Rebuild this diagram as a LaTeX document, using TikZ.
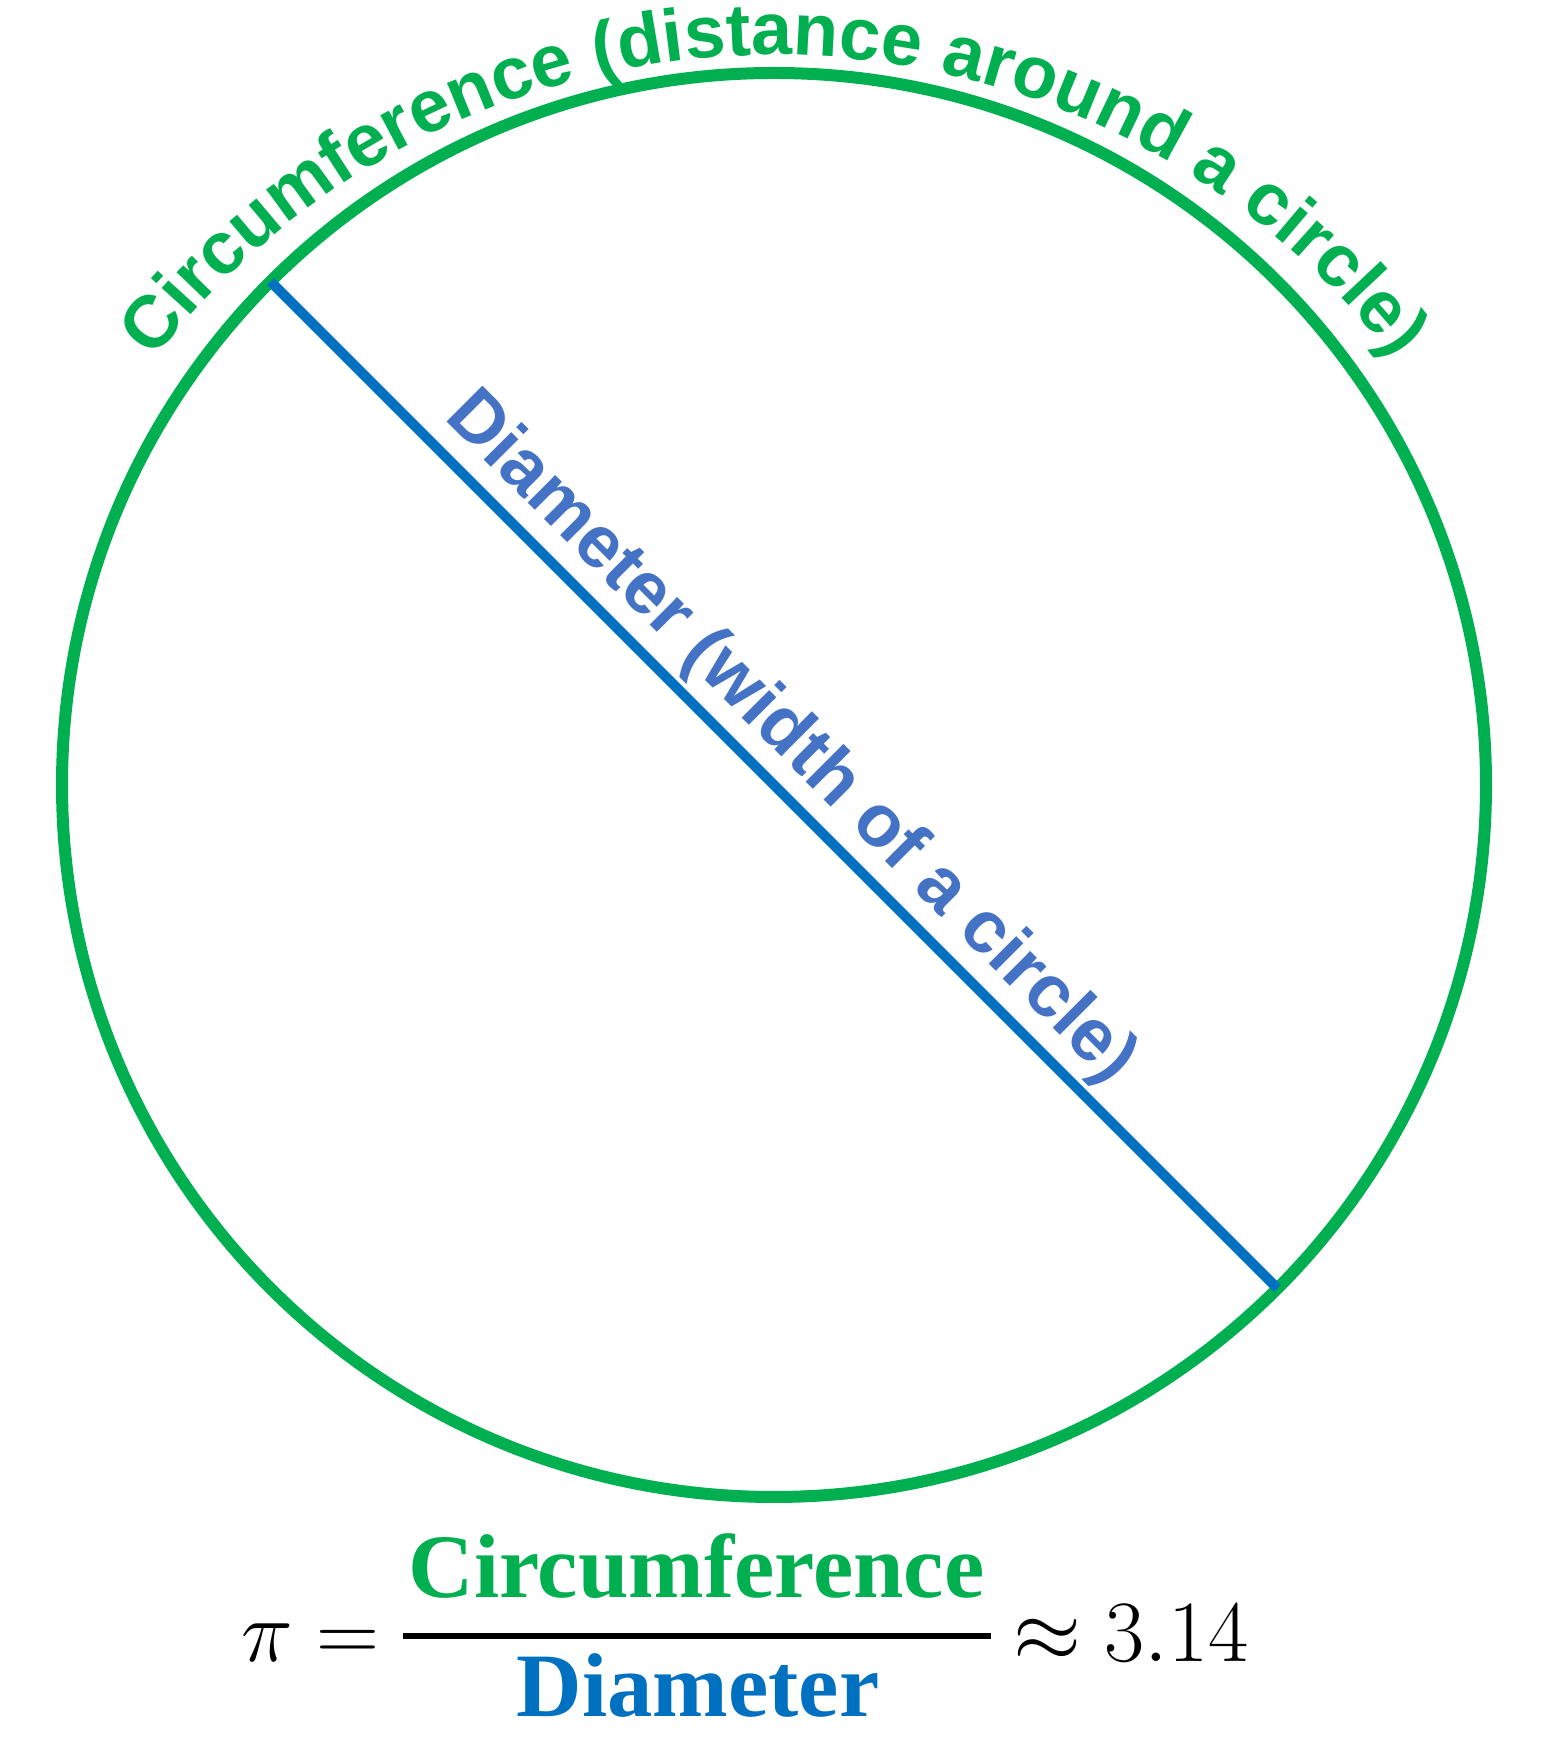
\documentclass[tikz,border=0pt]{standalone}
\usepackage{fontspec}
\usetikzlibrary{calc,decorations.text}
\newfontfamily\sansgras{Liberation Sans}
\newfontfamily\serifgras{Liberation Serif}
\definecolor{vert}{HTML}{00B050}
\definecolor{bleu}{HTML}{0070C0}
\definecolor{bleuclair}{HTML}{4472C4}

\begin{document}
\begin{tikzpicture}
\tikzset{bord/.style={draw=vert, line width=0.12cm},
  diam/.style={draw=bleu, line width=0.1cm},
  mot/.style={font=\serifgras\bfseries\fontsize{25.8}{30}\selectfont, inner sep=0, anchor=base},
  maths/.style={font=\fontsize{25}{30}\selectfont, inner sep=0, anchor=base}}
\useasboundingbox (0,0) rectangle (15.49,17.47);
\coordinate (O) at (7.74,9.62);
\coordinate (D1) at ($(O)+(135:7.12)$);
\coordinate (D2) at ($(O)+(-45:7.12)$);
\draw[bord] (O) circle (7.12);
\draw[diam] (D1) -- (D2);
% texte autour du cercle
\path[decorate, decoration={text along path, text align=center, text color=vert,
  text={|\sansgras\bfseries\fontsize{21}{25}\selectfont|Circumference (distance around a circle)}}]
  (7.74,9.08) ++(150:7.84) arc[start angle=150, end angle=30, radius=7.84];
\node[text=bleuclair, font=\sansgras\bfseries\fontsize{21}{25}\selectfont, rotate=-45, anchor=base, inner sep=0]
  (T) at ($(D1)!0.485!(D2)+(45:0.25)$) {Diameter (width of a circle)};
% formule
\coordinate (B1) at (4.03,1.11);
\coordinate (B2) at (9.91,1.11);
\node[maths] (pi) at (2.67,0.85) {$\pi$};
\node[maths] (egal) at (3.475,0.85) {$=$};
\draw[line width=0.06cm] (B1) -- (B2);
\node[mot, text=vert] (num) at (6.965,1.49) {Circumference};
\node[mot, text=bleu] (den) at (6.98,0.30) {Diameter};
\node[maths] (approx) at (10.47,0.85) {$\approx$};
\node[maths] (val) at (11.765,0.85) {$3.14$};
\end{tikzpicture}
\end{document}
